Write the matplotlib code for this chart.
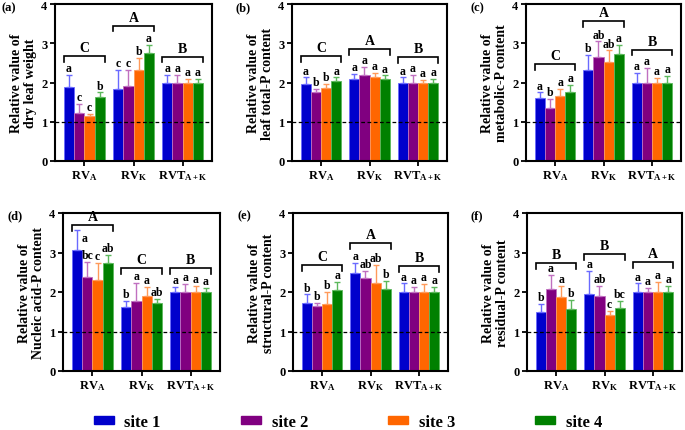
import matplotlib
matplotlib.use('Agg')
import matplotlib.pyplot as plt
import numpy as np

plt.rcParams['font.family'] = ['Liberation Serif', 'DejaVu Serif']
plt.rcParams['font.weight'] = 'bold'
plt.rcParams['mathtext.fontset'] = 'custom'
plt.rcParams['mathtext.rm'] = 'Liberation Serif:bold'
plt.rcParams['mathtext.it'] = 'Liberation Serif:bold'
plt.rcParams['mathtext.bf'] = 'Liberation Serif:bold'

# 数据
groups = [r'RV$_\mathrm{A}$', r'RV$_\mathrm{K}$', r'RVT$_\mathrm{A+K}$']
sites = ['site 1', 'site 2', 'site 3', 'site 4']
colors = ['#0000CC', '#800080', '#FF6600', '#008000']
err_colors = ['#6a6aff', '#c070c0', '#ff9a5a', '#5cb85c']

panel_tags = ['(a)', '(b)', '(c)', '(d)', '(e)', '(f)']
ylabels = ['Relative value of\ndry leaf weight',
           'Relative value of\nleaf total-P content',
           'Relative value of\nmetabolic-P content',
           'Relative value of\nNucleic acid-P content',
           'Relative value of\nstructural-P content',
           'Relative value of\nresidual-P content']

# 均值 [组][位点]
means_a = [[1.88, 1.22, 1.15, 1.63], [1.84, 1.92, 2.33, 2.75], [2.0, 2.0, 2.0, 2.0]]
errs_a = [[0.32, 0.23, 0.06, 0.12], [0.48, 0.40, 0.29, 0.20], [0.20, 0.20, 0.10, 0.10]]
letters_a = [['a', 'c', 'c', 'b'], ['c', 'c', 'b', 'a'], ['a', 'a', 'a', 'a']]
glet_a = ['C', 'A', 'B']
gpos_a = [2.67, 3.45, 2.66]

means_b = [[1.96, 1.75, 1.85, 2.05], [2.10, 2.18, 2.13, 2.08], [2.0, 2.0, 2.0, 2.0]]
errs_b = [[0.17, 0.09, 0.12, 0.08], [0.12, 0.22, 0.12, 0.10], [0.13, 0.20, 0.06, 0.10]]
letters_b = [['a', 'b', 'b', 'a'], ['a', 'a', 'a', 'a'], ['a', 'a', 'a', 'a']]
glet_b = ['C', 'A', 'B']
gpos_b = [2.67, 2.86, 2.64]

means_c = [[1.60, 1.35, 1.65, 1.77], [2.33, 2.65, 2.52, 2.73], [2.0, 2.0, 2.0, 2.0]]
errs_c = [[0.15, 0.24, 0.18, 0.17], [0.38, 0.40, 0.30, 0.23], [0.25, 0.37, 0.12, 0.17]]
letters_c = [['a', 'b', 'a', 'a'], ['b', 'ab', 'ab', 'a'], ['a', 'a', 'a', 'a']]
glet_c = ['C', 'A', 'B']
gpos_c = [2.46, 3.57, 2.84]

means_d = [[3.07, 2.38, 2.31, 2.74], [1.62, 1.78, 1.89, 1.71], [2.0, 2.0, 2.0, 2.0]]
errs_d = [[0.50, 0.38, 0.42, 0.20], [0.15, 0.45, 0.23, 0.12], [0.13, 0.20, 0.15, 0.10]]
letters_d = [['a', 'bc', 'c', 'ab'], ['b', 'a', 'a', 'ab'], ['a', 'a', 'a', 'a']]
glet_d = ['A', 'C', 'B']
gpos_d = [3.70, 2.60, 2.60]

means_e = [[1.72, 1.64, 1.70, 2.06], [2.48, 2.35, 2.23, 2.08], [2.0, 2.0, 2.0, 2.0]]
errs_e = [[0.22, 0.08, 0.30, 0.20], [0.25, 0.18, 0.46, 0.20], [0.22, 0.13, 0.20, 0.13]]
letters_e = [['b', 'b', 'b', 'a'], ['a', 'ab', 'ab', 'b'], ['a', 'a', 'a', 'a']]
glet_e = ['C', 'A', 'B']
gpos_e = [2.69, 3.23, 2.66]

means_f = [[1.50, 2.08, 1.87, 1.58], [1.95, 1.90, 1.41, 1.60], [2.0, 2.0, 2.0, 2.0]]
errs_f = [[0.20, 0.35, 0.28, 0.23], [0.58, 0.25, 0.12, 0.18], [0.22, 0.10, 0.25, 0.15]]
letters_f = [['b', 'a', 'a', 'b'], ['a', 'ab', 'c', 'bc'], ['a', 'a', 'a', 'a']]
glet_f = ['B', 'B', 'A']
gpos_f = [2.73, 2.96, 2.77]

panels = [
    (means_a, errs_a, letters_a, glet_a, gpos_a),
    (means_b, errs_b, letters_b, glet_b, gpos_b),
    (means_c, errs_c, letters_c, glet_c, gpos_c),
    (means_d, errs_d, letters_d, glet_d, gpos_d),
    (means_e, errs_e, letters_e, glet_e, gpos_e),
    (means_f, errs_f, letters_f, glet_f, gpos_f),
]

W, H = 685, 431
fig = plt.figure(figsize=(W / 100, H / 100), dpi=100)

# 像素坐标 (left, right, top, bottom)
boxes = [(55, 212, 5, 162), (292, 447, 5, 162), (526, 681, 5, 162),
         (63, 220, 214, 372), (293, 448, 214, 372), (527, 682, 214, 372)]
tag_xy = [(2, 8), (235, 8), (470, 8), (7, 216), (237, 216), (470, 216)]

bw = 0.21
offsets = (np.arange(4) - 1.5) * bw
x = np.arange(3)

for k, (means, errs, lets, glet, gpos) in enumerate(panels):
    l, r, t, b = boxes[k]
    ax = fig.add_axes([l / W, (H - b) / H, (r - l) / W, (b - t) / H])
    m = np.array(means)
    e = np.array(errs)
    for j in range(4):
        xs = x + offsets[j]
        ax.bar(xs, m[:, j], width=bw, color=colors[j], edgecolor=err_colors[j],
               linewidth=0.6, zorder=2)
        ax.errorbar(xs, m[:, j], yerr=[np.zeros(3), e[:, j]], fmt='none',
                    ecolor=err_colors[j], elinewidth=1.0, capsize=2.5,
                    capthick=1.0, zorder=3)
        for g in range(3):
            ytxt = m[g, j] + e[g, j] + 0.02
            xtxt = xs[g]
            if k == 3 and g == 0 and j == 0:
                ytxt, xtxt = 3.22, xs[g] + 0.16
            ax.text(xtxt, ytxt, lets[g][j], ha='center', va='bottom',
                    fontsize=8.5, fontweight='bold', zorder=4)
    # 组间括号
    for g in range(3):
        x0, x1 = x[g] - 2 * bw, x[g] + 2 * bw
        yb = gpos[g]
        ax.plot([x0, x0, x1, x1], [yb - 0.15, yb, yb, yb - 0.15], color='black',
                lw=1.2, zorder=4, solid_joinstyle='miter')
        ax.text(x[g], yb + 0.05, glet[g], ha='center', va='bottom',
                fontsize=10, fontweight='bold')
    ax.axhline(1, color='black', ls='--', lw=0.9, dashes=(3, 2), zorder=5)
    ax.set_xlim(-0.6, 2.6)
    ax.set_ylim(0, 4)
    ax.set_yticks([0, 1, 2, 3, 4])
    ax.set_xticks(x)
    ax.set_xticklabels(groups, fontsize=9)
    ax.tick_params(axis='both', width=1.3, length=3.5, labelsize=9, pad=2)
    for lab in ax.get_yticklabels():
        lab.set_fontweight('bold')
    for s in ax.spines.values():
        s.set_linewidth(1.5)
    ax.set_ylabel(ylabels[k], fontsize=10, fontweight='bold', labelpad=3,
                  linespacing=1.1)
    tx, ty = tag_xy[k]
    fig.text(tx / W, 1 - ty / H, panel_tags[k], fontsize=9, fontweight='bold',
             ha='left', va='center')

handles = [plt.Rectangle((0, 0), 1, 1, color=c) for c in colors]
fig.legend(handles, sites, loc='center', ncol=4, frameon=False,
           bbox_to_anchor=(348 / W, 1 - 423 / H),
           handlelength=1.2, handleheight=0.42, handletextpad=0.65,
           columnspacing=4.8, borderpad=0.1,
           prop={'weight': 'bold', 'size': 12})

plt.savefig('out.png', dpi=100)
plt.close()
